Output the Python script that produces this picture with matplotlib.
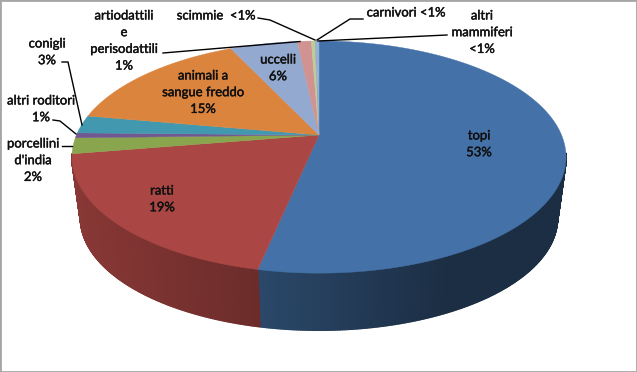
import numpy as np
import matplotlib
matplotlib.use("Agg")
import matplotlib.pyplot as plt
import matplotlib.patheffects as pe
from matplotlib.collections import PolyCollection
from matplotlib.colors import to_rgb

plt.rcParams['font.family'] = ['Lato', 'DejaVu Sans']

categories = ["topi", "ratti", "porcellini d'india", "altri roditori", "conigli",
              "animali a sangue freddo", "uccelli", "artiodattili e perisodattili",
              "scimmie", "carnivori", "altri mammiferi"]
values = [53.3, 19.1, 2.2, 0.7, 2.5, 15.2, 5.3, 1.1, 0.3, 0.1, 0.2]
colors = ["#4472A8", "#AA4643", "#89A54E", "#71588F", "#4198AF", "#DB843D",
          "#93A9CF", "#D19392", "#B9CD96", "#A99BBD", "#8DB4D8"]

# (text, centre x, first-line centre y) in picture pixels
labels = [("topi\n53%", 479, 135), ("ratti\n19%", 162, 190),
          ("porcellini\nd'india\n2%", 33, 143), ("altri roditori\n1%", 41, 100),
          ("conigli\n3%", 47, 43), ("animali a\nsangue freddo\n15%", 203, 75),
          ("uccelli\n6%", 278, 59), ("artiodattili\ne\nperisodattili\n1%", 124, 15),
          ("scimmie  <1%", 216, 15), ("carnivori <1%", 406, 12),
          ("altri\nmammiferi\n<1%", 482, 15)]
leaders = [([163, 300], [53, 41.5]), ([258, 270, 315], [18, 20, 40]),
           ([363, 350, 317], [19, 19, 40]), ([447, 318], [35, 41]),
           ([62, 68, 82], [62, 62, 125]), ([53, 60, 76], [120, 121, 134]),
           ([62, 72], [146, 146])]

# projected disc: a unit circle seen in perspective, centred on the apex
CX, CY = 319, 135
A, B, K = 111.9, 242.5, 0.19
BASE_SCALE, BASE_DROP = 0.965, 61.8

def project(theta):
    """theta: clockwise from 12 o'clock, radians."""
    u, v = np.sin(theta), np.cos(theta)
    w = 1 + K * v
    return CX + B * u / w, CY - A * v / w

def base(x, y):
    return CX + BASE_SCALE * (x - CX), CY + BASE_DROP + BASE_SCALE * (y - CY)

def shade(x):
    return np.interp(x, [72, 258, 450, 566], [0.80, 0.63, 0.40, 0.40])

fig = plt.figure(figsize=(6.37, 3.72), dpi=100)
ax = fig.add_axes([0, 0, 1, 1])
ax.set_xlim(0, 637)
ax.set_ylim(372, 0)
ax.set_xticks([])
ax.set_yticks([])
for s in ax.spines.values():
    s.set_color("#A6A6A6")
    s.set_linewidth(2.0)

edges = np.cumsum([0] + values) / sum(values) * 2 * np.pi

# side wall
polys, cols = [], []
for i, col in enumerate(colors):
    n = max(2, int((edges[i + 1] - edges[i]) / 0.008))
    th = np.linspace(edges[i], edges[i + 1], n + 1)
    x, y = project(th)
    bx, by = base(x, y)
    for j in range(n):
        if np.cos((th[j] + th[j + 1]) / 2) > -0.16:
            continue
        polys.append([(x[j], y[j]), (x[j + 1], y[j + 1]),
                      (bx[j + 1], by[j + 1]), (bx[j], by[j])])
        f = shade((x[j] + x[j + 1]) / 2)
        cols.append(tuple(c * f for c in to_rgb(col)))
ax.add_collection(PolyCollection(polys, facecolors=cols, edgecolors=cols,
                                 linewidths=1.3, zorder=2))

# top face
for i, col in enumerate(colors):
    th = np.linspace(edges[i], edges[i + 1], max(3, int((edges[i + 1] - edges[i]) / 0.01)))
    x, y = project(th)
    ax.fill(np.r_[CX, x], np.r_[CY, y], color=col, lw=0.3, zorder=3)

for lx, ly in leaders:
    ax.plot(lx, ly, color="black", lw=1.0, zorder=4, solid_joinstyle="miter")

for text, x, y in labels:
    ax.text(x, y - 5.5, text, ha="center", va="top",
            fontsize=9.4, color="#111111", linespacing=1.47, zorder=5,
            path_effects=[pe.withStroke(linewidth=0.3, foreground="#111111")])

fig.savefig("out.png", dpi=100)
